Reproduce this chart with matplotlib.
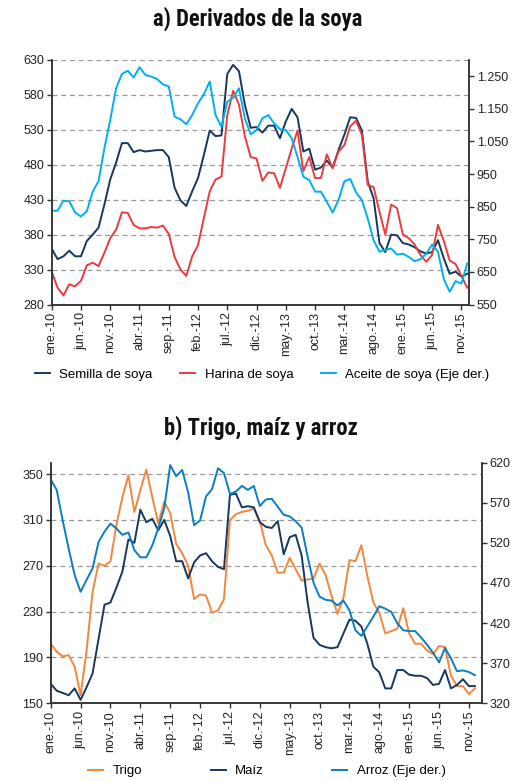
import numpy as np
import matplotlib
matplotlib.use("Agg")
import matplotlib.pyplot as plt
from matplotlib import font_manager as fm
from matplotlib.ticker import FuncFormatter

# monthly data, ene-10 .. dic-15
meses = ["ene", "feb", "mar", "abr", "may", "jun", "jul", "ago", "sep", "oct", "nov", "dic"]

semilla = [360, 345, 349, 357, 349, 349, 371, 380, 390, 423,
           459, 483, 511, 511, 498, 501, 499, 500, 501, 501,
           491, 447, 429, 421, 442, 461, 494, 529, 521, 522,
           610, 623, 614, 566, 533, 534, 526, 536, 536, 518,
           542, 560, 548, 499, 503, 473, 476, 486, 476, 501,
           523, 548, 547, 529, 456, 432, 368, 355, 380, 379,
           368, 366, 362, 356, 353, 355, 372, 346, 324, 327,
           320, 324]
harina = [327, 304, 293, 309, 306, 314, 336, 340, 335, 354,
          375, 387, 412, 411, 394, 389, 389, 391, 390, 393,
          381, 348, 330, 321, 349, 365, 404, 442, 459, 463,
          551, 586, 566, 521, 491, 489, 457, 469, 468, 447,
          475, 503, 529, 471, 491, 461, 461, 495, 475, 499,
          508, 535, 543, 523, 451, 448, 413, 380, 423, 418,
          380, 375, 366, 351, 341, 351, 394, 371, 343, 338,
          321, 304]
aceite = [837, 838, 868, 867, 832, 820, 836, 896, 928, 1029,
          1116, 1213, 1257, 1267, 1246, 1278, 1254, 1249, 1242, 1225,
          1219, 1126, 1118, 1103, 1131, 1167, 1195, 1234, 1131, 1095,
          1172, 1184, 1213, 1121, 1072, 1085, 1121, 1131, 1106, 1088,
          1085, 1060, 1003, 942, 932, 896, 896, 865, 832, 870,
          928, 935, 894, 870, 814, 747, 712, 717, 722, 703,
          706, 696, 683, 689, 706, 734, 712, 628, 589, 622,
          614, 676]

trigo = [202, 195, 191, 192, 182, 157, 196, 247, 272, 270,
         274, 306, 330, 349, 317, 336, 354, 330, 307, 326,
         316, 289, 281, 270, 241, 245, 244, 229, 231, 241,
         310, 315, 317, 318, 320, 309, 288, 279, 264, 264,
         277, 267, 257, 258, 259, 272, 262, 244, 228, 242,
         275, 274, 288, 261, 238, 229, 211, 213, 215, 233,
         211, 202, 202, 196, 193, 200, 199, 174, 165, 165,
         158, 163]
maiz = [167, 161, 159, 157, 163, 153, 164, 176, 206, 236,
        238, 251, 265, 293, 290, 319, 308, 311, 301, 310,
        296, 274, 274, 259, 273, 279, 281, 274, 269, 267,
        332, 333, 321, 322, 321, 308, 304, 303, 309, 280,
        295, 297, 279, 238, 207, 201, 199, 198, 199, 211,
        223, 222, 217, 202, 182, 177, 163, 163, 179, 179,
        175, 174, 174, 172, 166, 167, 179, 163, 166, 171,
        165, 165]
arroz = [599, 586, 548, 513, 480, 459, 474, 488, 521, 534,
         544, 538, 530, 533, 511, 502, 502, 517, 538, 563,
         617, 603, 611, 583, 542, 548, 578, 587, 613, 607,
         581, 584, 591, 586, 591, 566, 574, 575, 565, 555,
         553, 547, 539, 503, 470, 453, 449, 448, 442, 448,
         436, 411, 404, 416, 428, 441, 438, 434, 420, 411,
         410, 410, 402, 393, 383, 371, 389, 376, 360, 361,
         359, 355]

x = np.arange(len(semilla))
tick_pos = list(range(0, 71, 5))
tick_lab = [f"{meses[i % 12]}.-{10 + i // 12}" for i in tick_pos]

# narrow face for the titles if one is installed
names = {f.name for f in fm.fontManager.ttflist}
narrow = [n for n in ("Liberation Sans Narrow", "Roboto Condensed", "Open Sans Condensed",
                      "DejaVu Sans Condensed") if n in names]
if narrow:
    title_kw = dict(family=[narrow[0], "DejaVu Sans"], fontsize=16.3)
else:
    title_kw = dict(family=["Liberation Sans", "DejaVu Sans"], fontsize=13.8)
plt.rcParams["font.family"] = ["Liberation Sans", "DejaVu Sans"]

AXC = "#333333"
GRID = dict(color="#9a9a9a", linestyle=(0, (4, 3)), linewidth=0.9)


def dots(v, pos):
    return f"{int(v):,}".replace(",", ".")


def style(ax, axr, xmax, ylim, yticks, rlim, rticks):
    ax.set_xlim(0, xmax)
    ax.set_ylim(*ylim)
    ax.set_yticks(yticks)
    axr.set_ylim(*rlim)
    axr.set_yticks(rticks)
    axr.yaxis.set_major_formatter(FuncFormatter(dots))
    ax.set_xticks(tick_pos)
    ax.set_xticklabels(tick_lab, rotation=90)
    ax.yaxis.grid(True, **GRID)
    ax.set_axisbelow(True)
    for a in (ax, axr):
        a.spines["top"].set_visible(False)
        for s in ("left", "right", "bottom"):
            a.spines[s].set_color(AXC)
            a.spines[s].set_linewidth(1.1)
        a.tick_params(direction="out", length=3.5, width=1.0, color=AXC,
                      labelsize=9, labelcolor="#222222", pad=2)


fig = plt.figure(figsize=(5.16, 7.81), dpi=100)

# a) soya
ax1 = fig.add_axes([0.1002, 0.6101, 0.8087, 0.3131])
ax1r = ax1.twinx()
l1, = ax1.plot(x, semilla, color="#17375E", lw=1.4, label="Semilla de soya")
l2, = ax1.plot(x, harina, color="#EC3B3E", lw=1.4, label="Harina de soya")
l3, = ax1r.plot(x, aceite, color="#00B0F0", lw=1.4, label="Aceite de soya (Eje der.)")
style(ax1, ax1r, 71.3, (280, 630), range(280, 631, 50), (550, 1300), range(550, 1251, 100))

fig.text(0.499, 1 - 19 / 781, "a) Derivados de la soya", ha="center", va="center",
         fontweight="bold", color="#111111", **title_kw)
fig.legend([l1, l2, l3], [l.get_label() for l in (l1, l2, l3)], loc="center",
           bbox_to_anchor=(0.508, 1 - 375 / 781), ncol=3, frameon=False, fontsize=9.5,
           handlelength=1.15, handletextpad=0.7, columnspacing=2.1)

# b) trigo, maiz y arroz
ax2 = fig.add_axes([0.0983, 0.0995, 0.8359, 0.3081])
ax2r = ax2.twinx()
m1, = ax2.plot(x, trigo, color="#F5863B", lw=1.4, label="Trigo")
m2, = ax2.plot(x, maiz, color="#17375E", lw=1.4, label="Maíz")
m3, = ax2r.plot(x, arroz, color="#0B7DC2", lw=1.4, label="Arroz (Eje der.)")
style(ax2, ax2r, 72.2, (150, 360), range(150, 351, 40), (320, 620), range(320, 621, 50))

fig.text(0.506, 1 - 428 / 781, "b) Trigo, maíz y arroz", ha="center", va="center",
         fontweight="bold", color="#111111", **title_kw)
fig.legend([m1, m2, m3], [l.get_label() for l in (m1, m2, m3)], loc="center",
           bbox_to_anchor=(0.517, 1 - 771 / 781), ncol=3, frameon=False, fontsize=9.5,
           handlelength=1.15, handletextpad=0.7, columnspacing=5.2)

fig.savefig("out.png", dpi=100)
